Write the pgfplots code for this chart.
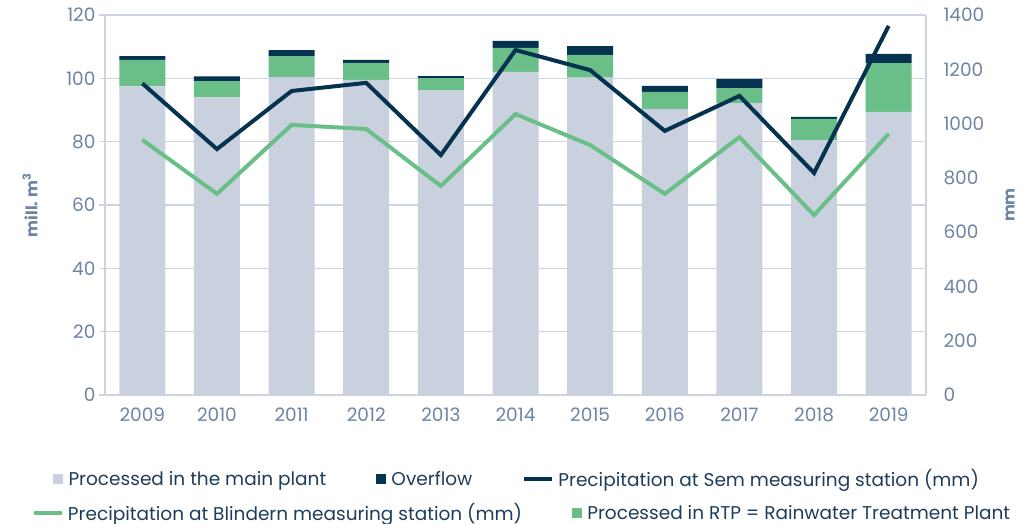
\documentclass[border=0pt]{standalone}
\usepackage{fontspec}
\setmainfont{Poppins}
\usepackage{pgfplots}
\pgfplotsset{compat=1.18}
\definecolor{cMain}{HTML}{C9D1DE}
\definecolor{cRTP}{HTML}{6ABF88}
\definecolor{cOF}{HTML}{05324F}
\definecolor{cTick}{HTML}{6E84A3}
\definecolor{cGrid}{HTML}{CDD4E0}
\definecolor{cLeg}{HTML}{1E3D5C}
\pgfplotsset{
  barsq/.style={legend image code/.code={\fill[##1] (0pt,-4.5pt) rectangle (9pt,4.5pt); \path[draw=none,fill=none] (0pt,0pt) -- (13pt,0pt);}},
  linesq/.style={legend image code/.code={\draw[##1,line width=4pt] (0pt,0pt) -- (28pt,0pt); \path[draw=none,fill=none] (0pt,0pt) -- (32pt,0pt);}},
  legrow/.style={hide axis, scale only axis, width=821pt, height=380pt, xmin=0, xmax=1, ymin=0, ymax=1,
    legend style={draw=none, fill=none, font=\fontsize{18.5}{20}\selectfont\color{cLeg}, legend columns=-1,
      /tikz/every even column/.append style={column sep=48pt}}},
}
\begin{document}
\begin{tikzpicture}
\path[use as bounding box] (0pt,0pt) rectangle (1035pt,523pt);
\begin{axis}[
  at={(105pt,128pt)}, anchor=south west,
  scale only axis, width=821pt, height=380pt,
  xmin=-0.5, xmax=10.5, ymin=0, ymax=120,
  ybar stacked, bar width=46pt,
  xtick={0,...,10},
  xticklabels={2009,2010,2011,2012,2013,2014,2015,2016,2017,2018,2019},
  extra x ticks={-0.5,0.5,...,10.5},
  extra x tick labels={},
  extra x tick style={grid=none, major tick length=5pt, tick style={draw=cGrid, line width=1.2pt}, tick align=outside},
  x tick style={draw=none},
  ytick={0,20,...,120},
  ymajorgrids, grid style={draw=cGrid, line width=1.5pt},
  y tick style={draw=cGrid, line width=1.2pt}, tick align=outside, major tick length=6pt,
  axis y line*=left, axis x line*=bottom,
  axis line style={draw=cGrid, line width=1.5pt, -},
  ticklabel style={font=\fontsize{18.5}{20}\selectfont, text=cTick},
  xticklabel style={yshift=-3pt},
  /pgf/number format/assume math mode=true,
  ylabel={\textbf{mill. m\textsuperscript{3}}},
  every axis y label/.style={at={(axis description cs:0,0.5)}, xshift=-75pt, rotate=90, anchor=center, font=\fontsize{16}{18}\selectfont, text=cTick},
]
\addplot[fill=cMain, draw=none] coordinates {(0,97.5) (1,94.0) (2,100.4) (3,99.5) (4,96.3) (5,102.0) (6,100.2) (7,90.3) (8,92.2) (9,80.5) (10,89.4)};
\addplot[fill=cRTP, draw=none] coordinates {(0,8.3) (1,5.1) (2,6.6) (3,5.4) (4,3.8) (5,7.6) (6,7.2) (7,5.4) (8,4.7) (9,6.7) (10,15.4)};
\addplot[fill=cOF, draw=none] coordinates {(0,1.2) (1,1.5) (2,1.9) (3,0.9) (4,0.6) (5,2.2) (6,2.8) (7,1.9) (8,2.9) (9,0.6) (10,2.9)};
\end{axis}
\begin{axis}[
  at={(105pt,128pt)}, anchor=south west,
  scale only axis, width=821pt, height=380pt,
  xmin=-0.5, xmax=10.5, ymin=0, ymax=1400,
  axis y line*=right, axis x line=none,
  ytick={0,200,...,1400},
  y tick style={draw=none},
  axis line style={draw=cGrid, line width=1.5pt, -},
  ticklabel style={font=\fontsize{18.5}{20}\selectfont, text=cTick},
  yticklabel style={xshift=14pt},
  /pgf/number format/assume math mode=true,
  /pgf/number format/1000 sep={},
  ylabel={\textbf{mm}},
  every axis y label/.style={at={(axis description cs:1,0.5)}, xshift=84pt, rotate=90, anchor=center, font=\fontsize{16}{18}\selectfont, text=cTick},
]
\addplot[cRTP, line width=4pt] coordinates {(0,940) (1,741) (2,995) (3,980) (4,770) (5,1035) (6,921) (7,741) (8,950) (9,663) (10,962)};
\addplot[cOF, line width=4pt] coordinates {(0,1148) (1,906) (2,1120) (3,1150) (4,884) (5,1271) (6,1197) (7,973) (8,1102) (9,818) (10,1360)};
\end{axis}
\begin{axis}[legrow, at={(105pt,128pt)}, anchor=south west,
  legend style={at={(0.502,-0.221)}, anchor=center}]
\addlegendimage{barsq, cMain}
\addlegendentry{Processed in the main plant}
\addlegendimage{barsq, cOF}
\addlegendentry{Overflow}
\addlegendimage{linesq, cOF}
\addlegendentry{Precipitation at Sem measuring station (mm)}
\end{axis}
\begin{axis}[legrow, at={(105pt,128pt)}, anchor=south west,
  legend style={at={(0.508,-0.310)}, anchor=center}]
\addlegendimage{linesq, cRTP}
\addlegendentry{Precipitation at Blindern measuring station (mm)}
\addlegendimage{barsq, cRTP}
\addlegendentry{Processed in RTP = Rainwater Treatment Plant}
\end{axis}
\end{tikzpicture}
\end{document}
